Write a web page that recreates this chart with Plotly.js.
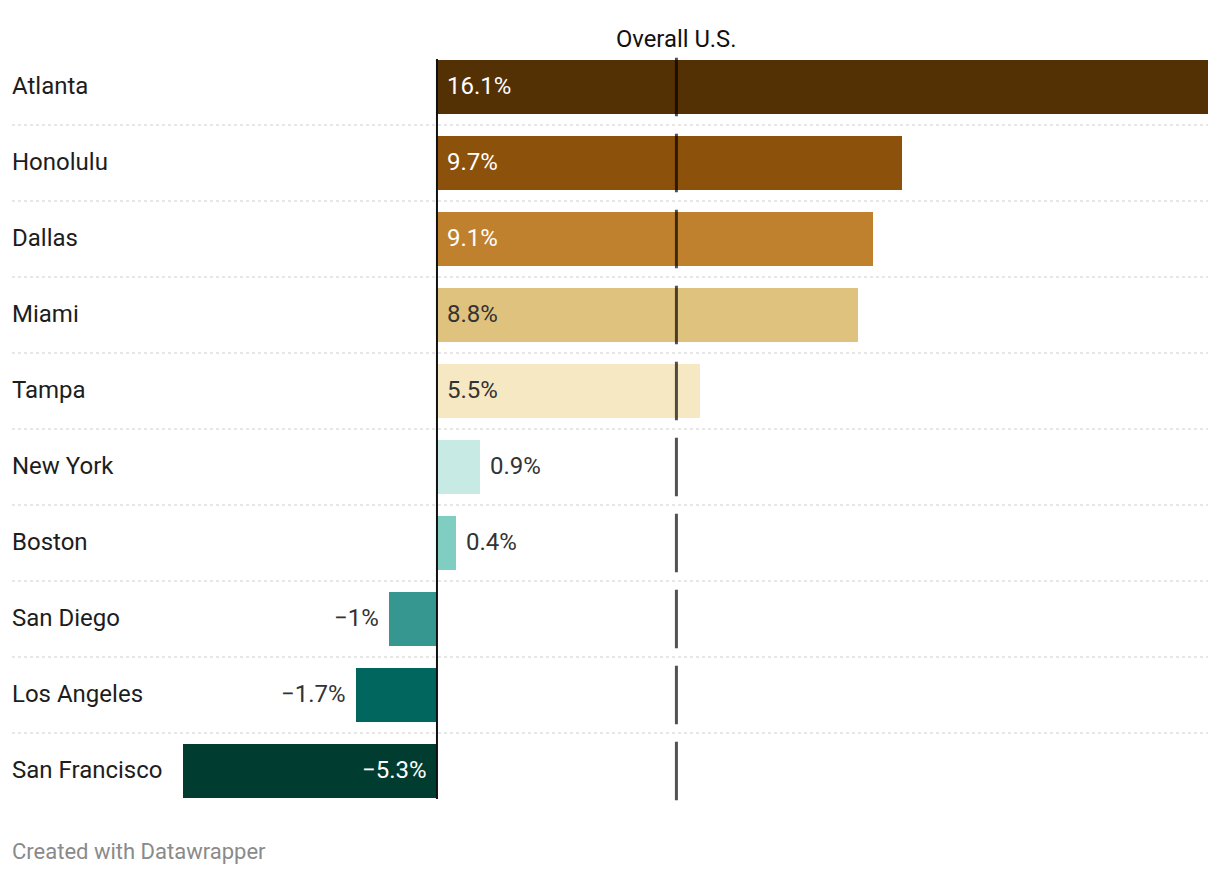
<!DOCTYPE html>
<html><head><meta charset="utf-8">
<script src="https://cdn.plot.ly/plotly-3.0.1.min.js"></script>
<style>body{margin:0;background:#fff}#chart{width:1220px;height:876px}</style>
</head><body><div id="chart"></div>
<script>
const cities = ["Atlanta","Honolulu","Dallas","Miami","Tampa","New York","Boston","San Diego","Los Angeles","San Francisco"];
const values = [16.1, 9.7, 9.1, 8.8, 5.5, 0.9, 0.4, -1.0, -1.7, -5.3];
const valueLabels = ["16.1%","9.7%","9.1%","8.8%","5.5%","0.9%","0.4%","\u22121%","\u22121.7%","\u22125.3%"];
const colors = ["#543005","#8c510a","#bf812d","#dfc27d","#f6e8c3","#c7eae5","#80cdc1","#35978f","#01665e","#003c30"];
const overallUS = 5.0;
const overallLabel = "Overall U.S.";

const FONT = "Roboto, sans-serif";
const darkBars = new Set(["#543005","#8c510a","#bf812d","#35978f","#01665e","#003c30"]);

const annotations = [];
const shapes = [];
cities.forEach((c, i) => {
  annotations.push({xref:"paper", yref:"y", x:0, y:c, xanchor:"left", yanchor:"middle", xshift:-2, yshift:1,
    text:c, showarrow:false, font:{family:FONT, size:24, color:"#1d1d1d"}});
  const v = values[i];
  const inside = Math.abs(v) >= 3;
  let ann = {xref:"x", yref:"y", y:c, yanchor:"middle", yshift:1, text:valueLabels[i], showarrow:false,
    font:{family:FONT, size:24, color: inside && darkBars.has(colors[i]) ? "#fff" : "#333"}};
  if (v >= 0) {
    if (inside) Object.assign(ann, {x:0, xanchor:"left", xshift:8});
    else Object.assign(ann, {x:v, xanchor:"left", xshift:8});
  } else {
    if (inside) Object.assign(ann, {x:0, xanchor:"right", xshift:-8});
    else Object.assign(ann, {x:v, xanchor:"right", xshift:-8});
  }
  annotations.push(ann);
  shapes.push({type:"line", xref:"x", yref:"y", x0:overallUS, x1:overallUS, y0:i-0.385, y1:i+0.385,
    line:{color:"rgba(0,0,0,0.68)", width:3}, layer:"above"});
  if (i < cities.length - 1) {
    shapes.push({type:"line", xref:"paper", yref:"y", x0:0, x1:1, y0:i+0.5, y1:i+0.5,
      line:{color:"#cfcfcf", width:1, dash:"dot"}, layer:"below"});
  }
});
shapes.push({type:"line", xref:"x", yref:"y", x0:0, x1:0, y0:-0.37, y1:cities.length-1+0.37,
  line:{color:"#111", width:2}, layer:"above"});

annotations.push({xref:"x", yref:"paper", x:overallUS, y:1, yanchor:"bottom", yshift:-6, text:overallLabel,
  showarrow:false, font:{family:FONT, size:23.8, color:"#111"}});
annotations.push({xref:"paper", yref:"paper", x:0, y:0, xanchor:"left", yanchor:"top", yshift:-28, xshift:-2,
  text:"Created with Datawrapper", showarrow:false, font:{family:FONT, size:22, color:"#8a8a8a"}});

Plotly.newPlot("chart", [{
  type:"bar", orientation:"h", x:values, y:cities,
  marker:{color:colors, line:{width:0}}, width:0.71, hoverinfo:"skip", textposition:"none"
}], {
  width:1220, height:876,
  margin:{l:12, r:12, t:49, b:67},
  paper_bgcolor:"#fff", plot_bgcolor:"#fff",
  xaxis:{range:[-8.874, 16.1], visible:false, fixedrange:true},
  yaxis:{type:"category", autorange:false, range:[9.5,-0.5], visible:false, fixedrange:true},
  showlegend:false, bargap:0,
  annotations:annotations, shapes:shapes
}, {staticPlot:true, displayModeBar:false});
</script></body></html>
